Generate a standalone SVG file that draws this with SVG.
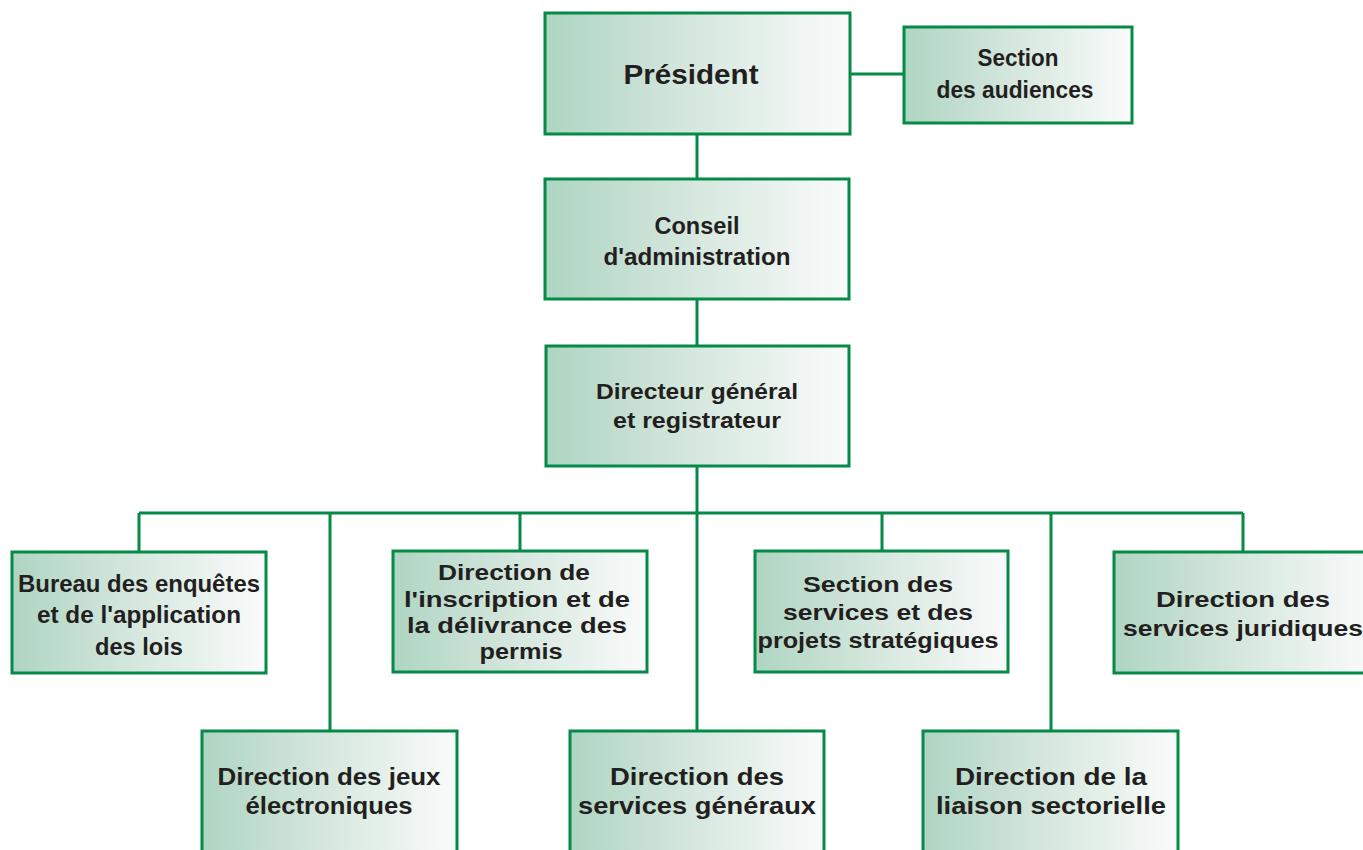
<svg xmlns="http://www.w3.org/2000/svg" width="1363" height="850" viewBox="0 0 1363 850">
<defs>
<linearGradient id="g" x1="0" y1="0" x2="1" y2="0">
<stop offset="0" stop-color="#aed5c2"/>
<stop offset="0.45" stop-color="#d3e6dc"/>
<stop offset="1" stop-color="#fafbfb"/>
</linearGradient>
</defs>
<style>
.box{fill:url(#g);stroke:#058a48;stroke-width:3}
.ln{stroke:#058a48;stroke-width:3;fill:none}
text{font-family:"Liberation Sans",Arial,sans-serif;font-weight:bold;fill:#231f20;text-anchor:middle;font-size:22px}
text.big{font-size:27px}
text.c{font-size:24px}
</style>
<rect width="1363" height="850" fill="#ffffff"/>
<g id="connectors">
<path class="ln" d="M850 74H904"/>
<path class="ln" d="M697 134V179M697 299V346M697 466V513"/>
<path class="ln" d="M139 513H1243"/>
<path class="ln" d="M139 513V552M520 513V551M882 513V551M1243 513V552"/>
<path class="ln" d="M330 513V731M697 513V731M1051 513V731"/>
</g>
<g id="president">
<rect class="box" x="545" y="13" width="305" height="121"/>
<text class="big" x="691" y="84" textLength="135" lengthAdjust="spacingAndGlyphs">Président</text>
</g>
<g id="audiences">
<rect class="box" x="904" y="27" width="228" height="96"/>
<text class="c" x="1018" y="66" textLength="81" lengthAdjust="spacingAndGlyphs">Section</text>
<text class="c" x="1015" y="98" textLength="157" lengthAdjust="spacingAndGlyphs">des audiences</text>
</g>
<g id="conseil">
<rect class="box" x="545" y="179" width="304" height="120"/>
<text class="c" x="697" y="234" textLength="85" lengthAdjust="spacingAndGlyphs">Conseil</text>
<text class="c" x="697" y="265" textLength="187" lengthAdjust="spacingAndGlyphs">d'administration</text>
</g>
<g id="directeur">
<rect class="box" x="546" y="346" width="303" height="120"/>
<text x="697" y="399" textLength="202" lengthAdjust="spacingAndGlyphs">Directeur général</text>
<text x="697" y="428" textLength="168" lengthAdjust="spacingAndGlyphs">et registrateur</text>
</g>
<g id="bureau">
<rect class="box" x="12" y="552" width="254" height="121"/>
<text class="c" x="139" y="592" textLength="242" lengthAdjust="spacingAndGlyphs">Bureau des enquêtes</text>
<text class="c" x="139" y="623" textLength="204" lengthAdjust="spacingAndGlyphs">et de l'application</text>
<text class="c" x="139" y="655" textLength="88" lengthAdjust="spacingAndGlyphs">des lois</text>
</g>
<g id="inscription">
<rect class="box" x="393" y="551" width="254" height="121"/>
<text x="514" y="580" textLength="152" lengthAdjust="spacingAndGlyphs">Direction de</text>
<text x="517" y="607" textLength="226" lengthAdjust="spacingAndGlyphs">l'inscription et de</text>
<text x="517" y="633" textLength="220" lengthAdjust="spacingAndGlyphs">la délivrance des</text>
<text x="521" y="659" textLength="83" lengthAdjust="spacingAndGlyphs">permis</text>
</g>
<g id="strategiques">
<rect class="box" x="755" y="551" width="253" height="121"/>
<text x="878" y="592" textLength="150" lengthAdjust="spacingAndGlyphs">Section des</text>
<text x="878" y="620" textLength="190" lengthAdjust="spacingAndGlyphs">services et des</text>
<text x="878" y="648" textLength="241" lengthAdjust="spacingAndGlyphs">projets stratégiques</text>
</g>
<g id="juridiques">
<rect class="box" x="1114" y="552" width="260" height="121"/>
<text x="1243" y="607" textLength="174" lengthAdjust="spacingAndGlyphs">Direction des</text>
<text x="1243" y="636" textLength="240" lengthAdjust="spacingAndGlyphs">services juridiques</text>
</g>
<g id="jeux">
<rect class="box" x="202" y="731" width="255" height="130"/>
<text class="c" x="329" y="785" textLength="223" lengthAdjust="spacingAndGlyphs">Direction des jeux</text>
<text class="c" x="329" y="814" textLength="167" lengthAdjust="spacingAndGlyphs">électroniques</text>
</g>
<g id="generaux">
<rect class="box" x="570" y="731" width="254" height="130"/>
<text class="c" x="697" y="785" textLength="174" lengthAdjust="spacingAndGlyphs">Direction des</text>
<text class="c" x="697" y="814" textLength="238" lengthAdjust="spacingAndGlyphs">services généraux</text>
</g>
<g id="liaison">
<rect class="box" x="923" y="731" width="255" height="130"/>
<text class="c" x="1051" y="785" textLength="192" lengthAdjust="spacingAndGlyphs">Direction de la</text>
<text class="c" x="1051" y="814" textLength="230" lengthAdjust="spacingAndGlyphs">liaison sectorielle</text>
</g>
</svg>
